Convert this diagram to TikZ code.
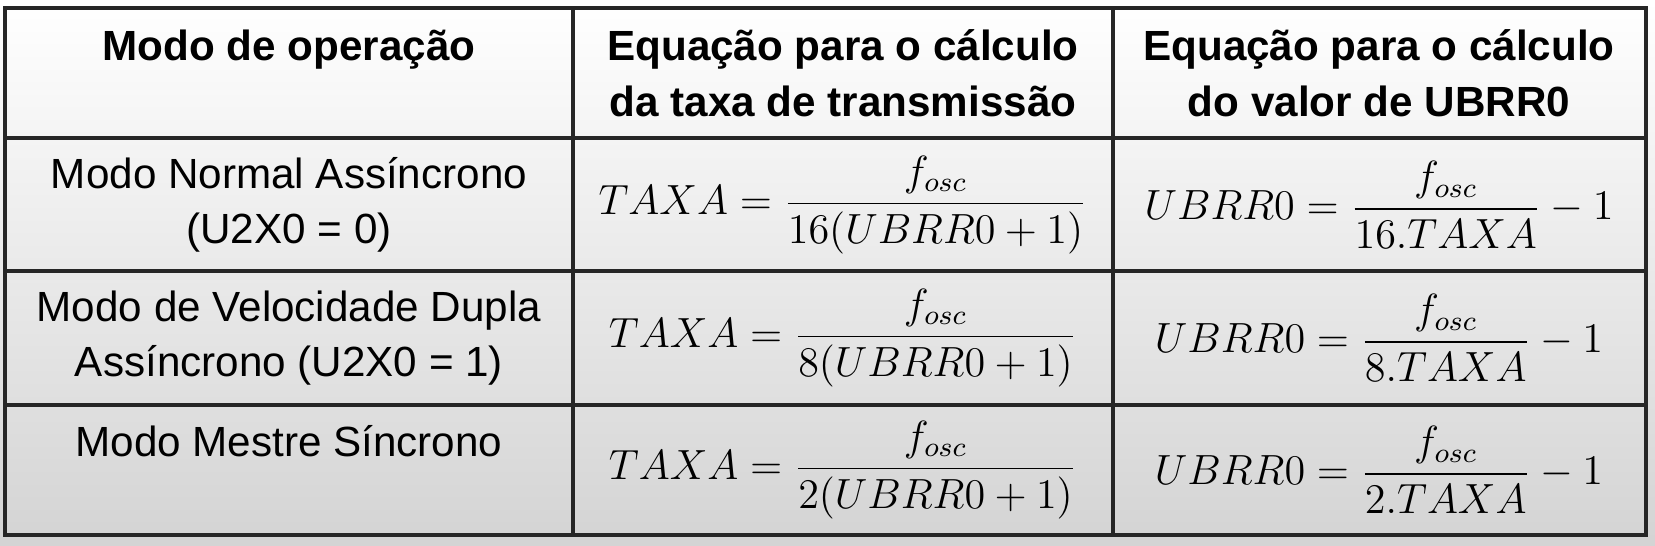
\documentclass[tikz,border=0pt]{standalone}
\usepackage[no-math]{fontspec}
\setmainfont{Liberation Sans}
\usepackage{amsmath}
\usetikzlibrary{positioning}

\begin{document}
\begin{tikzpicture}
                    [x=0.01cm,y=-0.01cm,
                     every node/.style={font=\fontsize{12}{15.8}\selectfont},
                     grid/.style={line width=0.9pt,draw=black!85},
                     head/.style={align=center,font=\fontsize{12}{15.8}\selectfont\bfseries},
                     cell/.style={align=center},
                     eq/.style={inner sep=0pt}]

                        \useasboundingbox (0,0) rectangle (1655,545);
                        \shade[top color=white,bottom color=black!17] (0,0) rectangle (1655,545);

                        % table lines
                        \draw[grid] (5,8) rectangle (1646,535);
                        \foreach \y in {138,271,405}
                            \draw[grid] (5,\y) -- (1646,\y);
                        \foreach \x in {573,1113}
                            \draw[grid] (\x,8) -- (\x,535);

                        \node[head,anchor=base] (modo) at (289,60) {Modo de operação};
                        \node[head] (taxa) at (843,73) {Equação para o cálculo\\da taxa de transmissão};
                        \node[head] (ubrr) at (1379,73) {Equação para o cálculo\\do valor de UBRR0};

                        \node[cell] (normal) at (289,205) {Modo Normal Assíncrono\\(U2X0 = 0)};
                        \node[cell] (dupla) at (289,338) {Modo de Velocidade Dupla\\Assíncrono (U2X0 = 1)};
                        \node[cell,anchor=base] (mestre) at (289,456) {Modo Mestre Síncrono};

                        % equations
                        \foreach \n/\y [count=\i] in {16/205,8/338,2/470} {
                            \node[eq] (taxa\i) at (843,\y) {$TAXA = \dfrac{f_{osc}}{\n(UBRR0+1)}$};
                            \node[eq] (ubrr\i) at (1379,\y) {$UBRR0 = \dfrac{f_{osc}}{\n.TAXA} - 1$};
                        }

                \end{tikzpicture}
\end{document}
